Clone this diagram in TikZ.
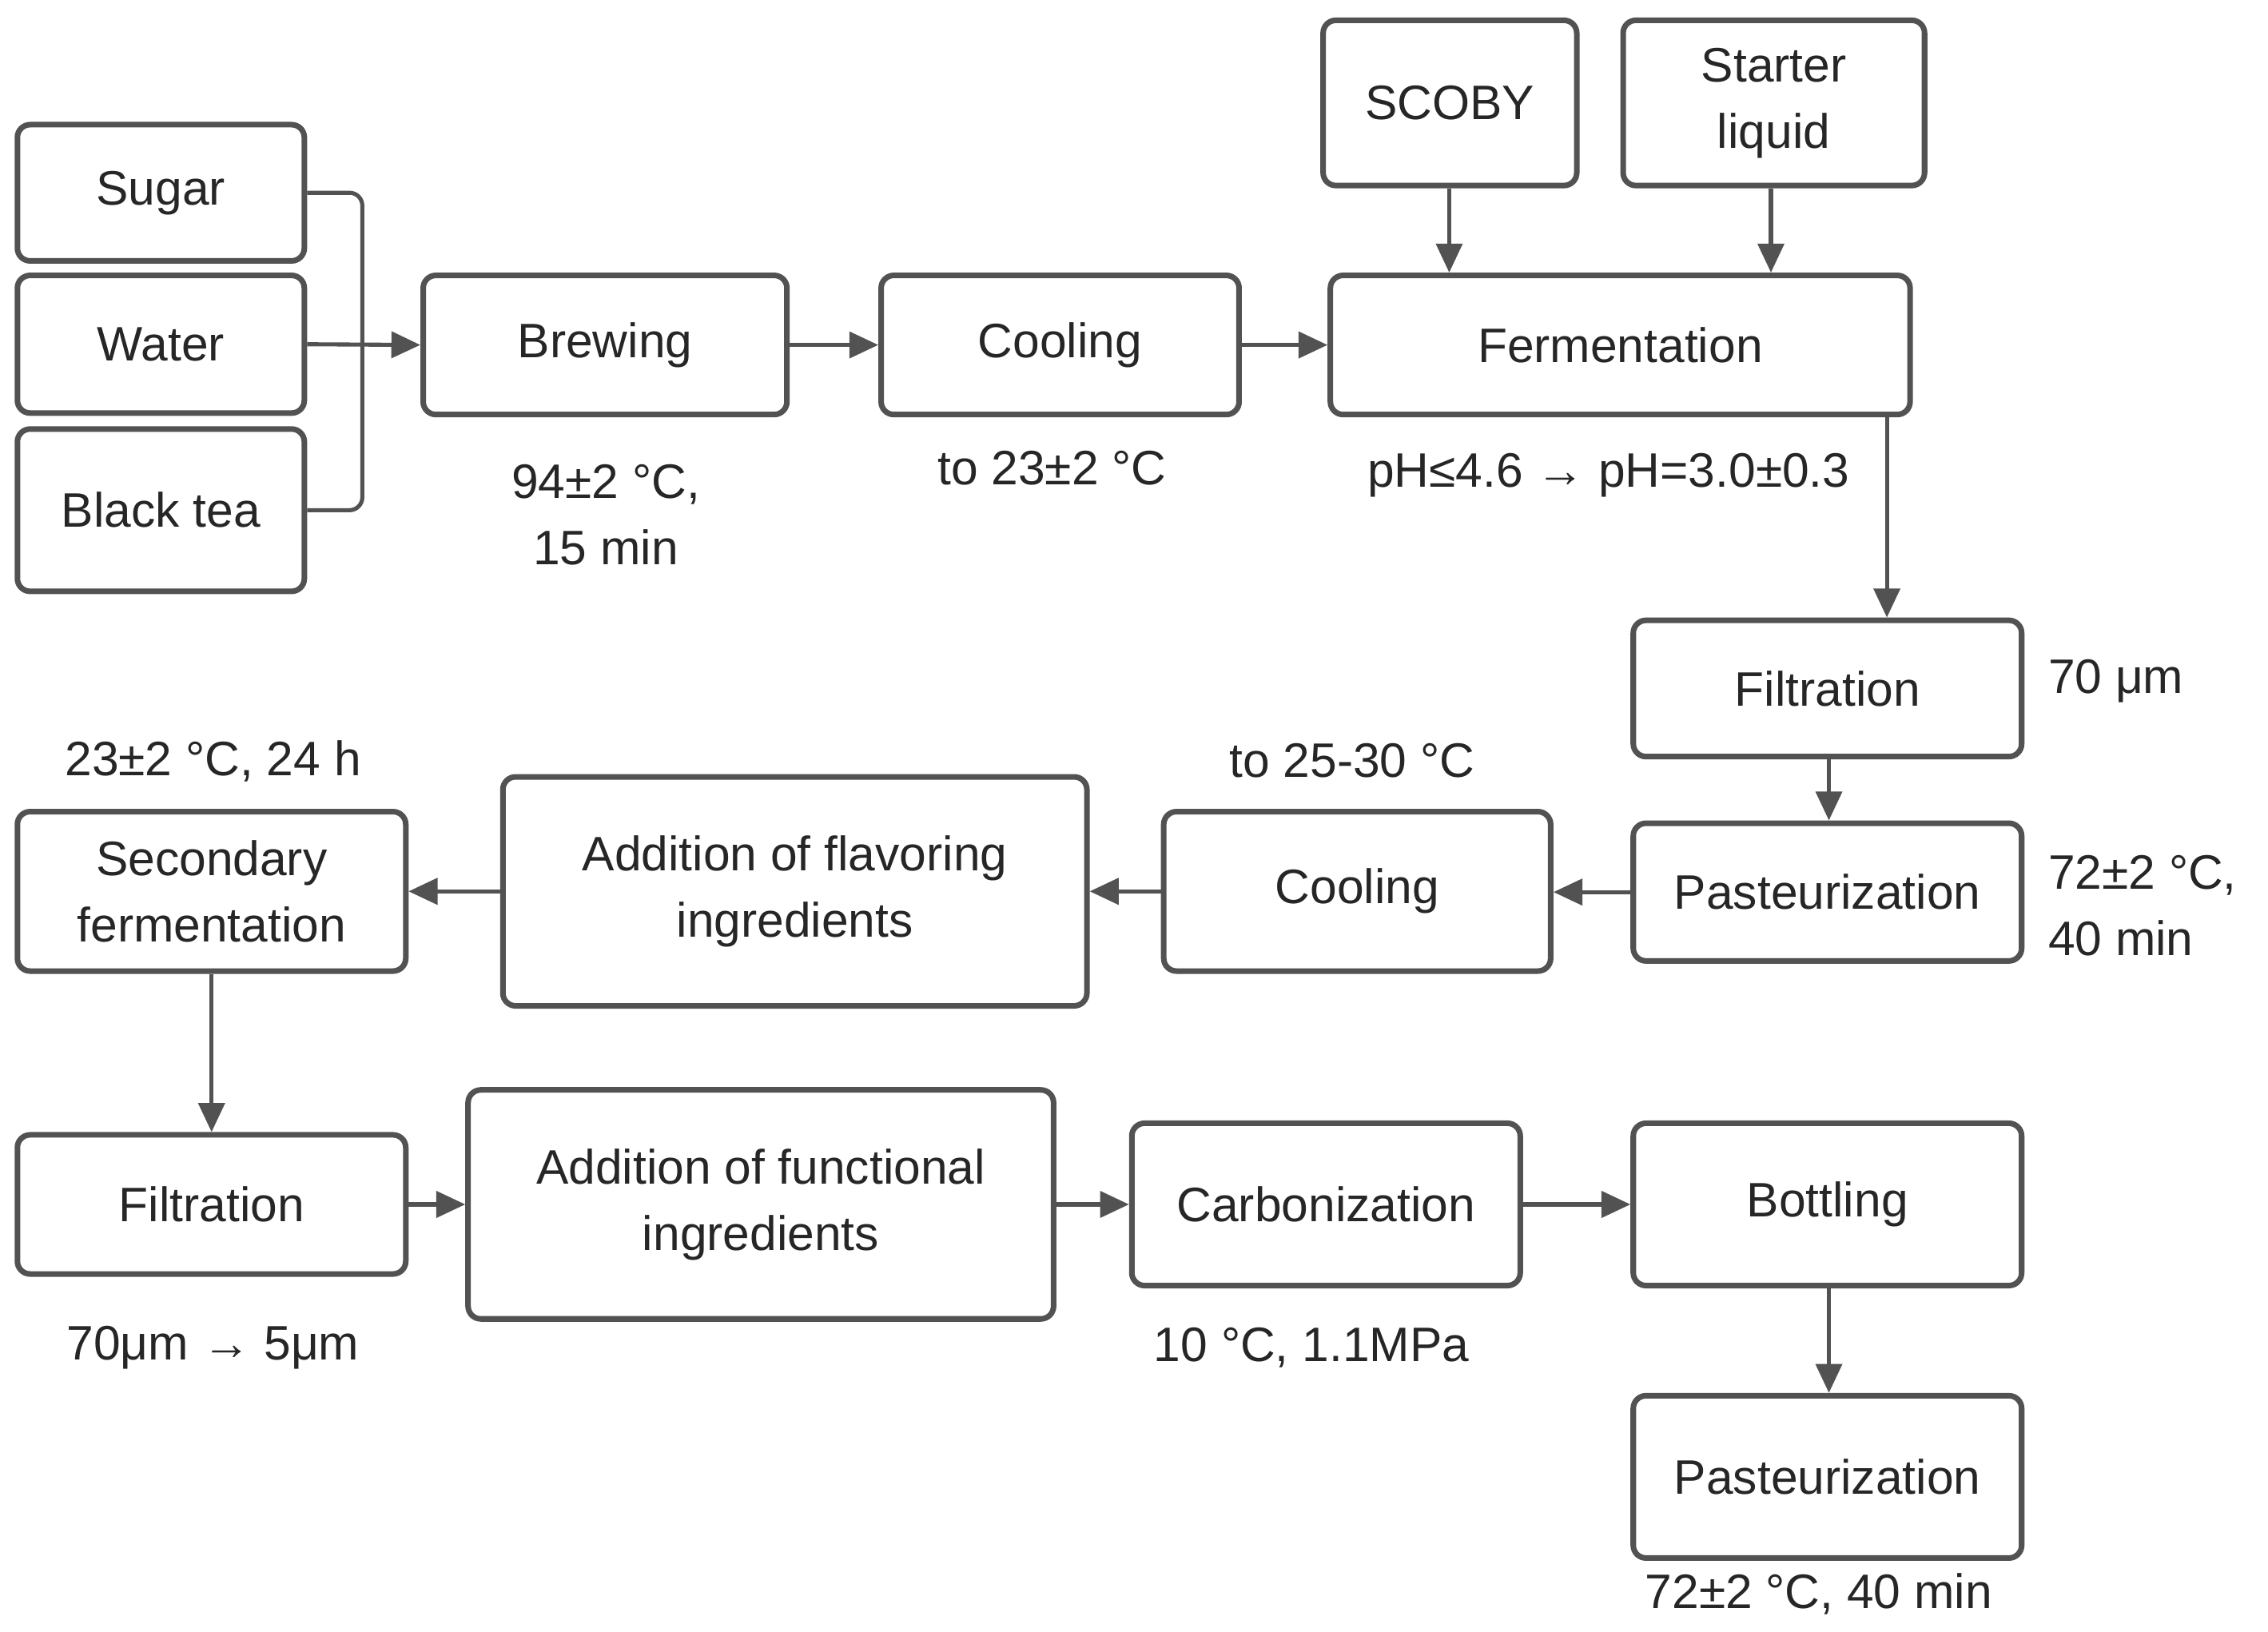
\documentclass[tikz,border=0pt]{standalone}
\usepackage{fontspec}
\setmainfont{Liberation Sans}
\usetikzlibrary{arrows.meta}
\begin{document}
\begin{tikzpicture}[x=0.02cm,y=-0.02cm,
 box/.style={draw=black!68,line width=2.2pt,rounded corners=5pt,align=center,inner sep=0pt,font=\fontsize{19}{26}\selectfont,text=black!85},
 lab/.style={align=center,inner sep=0pt,font=\fontsize{19}{26}\selectfont,text=black!85},
 ar/.style={draw=black!68,line width=1.6pt,-{Triangle[length=0.4cm,width=0.36cm]}}]
\useasboundingbox (0,0) rectangle (1565,1125.5);
\newcommand{\bx}[6]{\node[box,minimum width={(#4-#2)*0.02cm},minimum height={(#5-#3)*0.02cm}] (#1) at ({(#2+#4)/2},{(#3+#5)/2}) {#6};}
\bx{sugar}{12}{86}{210}{180}{Sugar}
\bx{water}{12}{190}{210}{285}{Water}
\bx{tea}{12}{296}{210}{408}{Black tea}
\bx{brew}{292}{190}{543}{286}{Brewing}
\bx{cool}{608}{190}{855}{286}{Cooling}
\bx{ferm}{918}{190}{1318}{286}{Fermentation}
\bx{scoby}{913}{14}{1088}{128}{SCOBY}
\bx{start}{1120}{14}{1328}{128}{Starter\\liquid}
\bx{filt}{1127}{428}{1395}{522}{Filtration}
\bx{past}{1127}{568}{1395}{663}{Pasteurization}
\bx{cool2}{803}{560}{1070}{670}{Cooling}
\bx{flav}{347}{536}{750}{694}{Addition of flavoring\\ingredients}
\bx{sec}{12}{560}{280}{670}{Secondary\\fermentation}
\bx{filt2}{12}{783}{280}{879}{Filtration}
\bx{func}{323}{752}{727}{910}{Addition of functional\\ingredients}
\bx{carb}{781}{775}{1049}{887}{Carbonization}
\bx{bott}{1127}{775}{1395}{887}{Bottling}
\bx{past2}{1127}{963}{1395}{1075}{Pasteurization}
\node[lab] (l1) at (418,355) {94±2 °C,\\15 min};
\node[lab] (l2) at (726,323) {to 23±2 °C};
\node[lab] (l3) at (1110,328) {pH≤4.6 → pH=3.0±0.3};
\node[lab,anchor=west] (l4) at (1413,470) {70 μm};
\node[lab,anchor=west,align=left] (l5) at (1413,625) {72±2 °C,\\40 min};
\node[lab] (l6) at (933,525) {to 25-30 °C};
\node[lab] (l7) at (147,525) {23±2 °C, 24 h};
\node[lab] (l8) at (147,930) {70μm → 5μm};
\node[lab] (l9) at (905,930) {10 °C, 1.1MPa};
\node[lab] (l10) at (1255,1100) {72±2 °C, 40 min};
\coordinate (j) at (250,238);
\draw[draw=black!68,line width=1.6pt,rounded corners=5pt] (sugar.east) -| (250,238) |- (tea.east);
\draw[ar] (water.east) -- (brew.west);
\draw[ar] (brew) -- (cool);
\draw[ar] (cool) -- (ferm);
\draw[ar] (scoby.south -| 1000,0) -- (ferm.north -| 1000,0);
\draw[ar] (start.south -| 1222,0) -- (ferm.north -| 1222,0);
\draw[ar] (ferm.south -| 1302,0) -- (filt.north -| 1302,0);
\draw[ar] (filt.south -| 1262,0) -- (past.north -| 1262,0);
\draw[ar] (past.west) -- (past.west -| cool2.east);
\draw[ar] (cool2.west) -- (cool2.west -| flav.east);
\draw[ar] (flav.west |- sec.east) -- (sec.east);
\draw[ar] (sec.south) -- (filt2.north);
\draw[ar] (filt2.east) -- (filt2.east -| func.west);
\draw[ar] (func.east |- carb.east) -- (carb.east -| carb.west);
\draw[ar] (carb) -- (bott);
\draw[ar] (bott.south -| 1262,0) -- (past2.north -| 1262,0);
\end{tikzpicture}
\end{document}
